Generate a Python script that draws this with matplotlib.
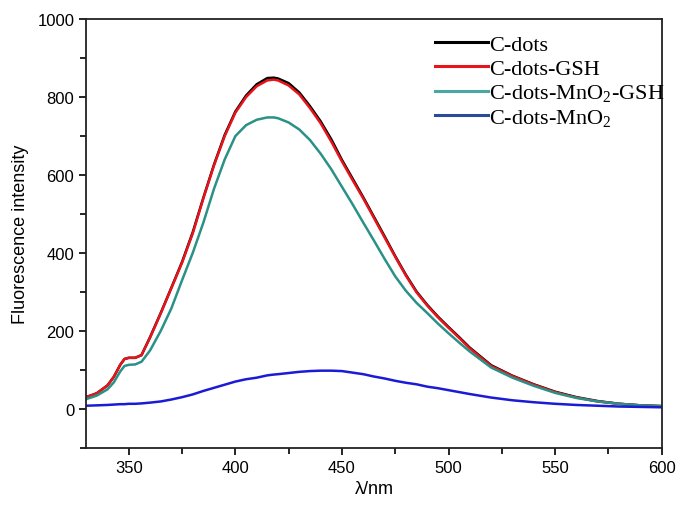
import numpy as np
import matplotlib.pyplot as plt
from matplotlib.ticker import MultipleLocator

plt.rcParams['mathtext.default'] = 'regular'

# wavelengths (nm) shared by all spectra
wl = [330, 335, 340, 343, 346, 348, 350, 353, 356, 360, 365, 370, 375, 380,
      385, 390, 395, 400, 405, 410, 415, 418, 420, 425, 430, 435, 440, 445,
      450, 455, 460, 465, 470, 475, 480, 485, 490, 495, 500, 505, 510, 520,
      530, 540, 550, 560, 570, 580, 590, 600]

cdots = [30, 40, 60, 82, 113, 128, 131, 131, 138, 184, 246, 311, 377, 453,
         542, 627, 703, 763, 804, 833, 849, 850, 848, 836, 812, 777, 738, 692,
         639, 591, 543, 493, 443, 392, 344, 301, 267, 237, 210, 184, 157, 112,
         85, 63, 44, 30, 20, 13, 9, 7]

cdots_gsh = [30, 40, 60, 82, 113, 128, 131, 131, 138, 183, 245, 310, 375, 450,
             540, 625, 700, 760, 800, 828, 843, 845, 843, 830, 807, 772, 733, 686,
             635, 587, 540, 490, 440, 390, 342, 299, 265, 235, 208, 182, 155, 110,
             84, 62, 43, 29, 19, 13, 9, 7]

cdots_mno2_gsh = [25, 34, 50, 68, 96, 110, 113, 114, 121, 150, 200, 258, 330, 400,
                  478, 565, 640, 700, 728, 742, 748, 748, 746, 735, 717, 690, 655, 615,
                  570, 525, 478, 432, 385, 340, 303, 272, 246, 219, 194, 170, 147, 106,
                  80, 59, 41, 28, 19, 13, 9, 7]

cdots_mno2 = [8, 9, 10, 11, 12, 12, 13, 13, 14, 16, 19, 24, 30, 37,
              46, 54, 62, 70, 76, 80, 86, 88, 89, 92, 95, 97, 98, 98,
              97, 93, 89, 83, 78, 72, 67, 63, 57, 53, 48, 43, 38, 29,
              22, 17, 13, 10, 8, 6, 5, 4]

fig = plt.figure(figsize=(6.78, 5.06), dpi=100)
ax = fig.add_axes([0.127, 0.113, 0.849, 0.847])

lw = 1.8
ax.plot(wl, cdots, color='black', lw=lw, label='C-dots')
ax.plot(wl, cdots_gsh, color='#e8141b', lw=lw, label='C-dots-GSH')
ax.plot(wl, cdots_mno2_gsh, color='#2a9187', lw=lw, label='C-dots-MnO$_2$-GSH')
ax.plot(wl, cdots_mno2, color='#1b1bd6', lw=lw, label='C-dots-MnO$_2$')

ax.set_xlim(330, 600)
ax.set_ylim(-100, 1000)
ax.xaxis.set_major_locator(MultipleLocator(50))
ax.xaxis.set_minor_locator(MultipleLocator(25))
ax.yaxis.set_major_locator(MultipleLocator(200))
ax.yaxis.set_minor_locator(MultipleLocator(100))
ax.tick_params(which='both', direction='out', width=1.2, labelsize=12,
               top=False, right=False)
ax.tick_params(which='major', length=5)
ax.tick_params(which='minor', length=4)
for lab in ax.get_xticklabels() + ax.get_yticklabels():
    lab.set_family('Liberation Sans')
for sp in ax.spines.values():
    sp.set_linewidth(1.3)
    sp.set_color('#222222')

ax.set_xlabel('λ/nm', fontsize=13, family='Liberation Sans', labelpad=4)
ax.set_ylabel('Fluorescence intensity', fontsize=13, family='Liberation Sans', labelpad=6)

leg = ax.legend(loc='upper left', bbox_to_anchor=(0.59, 0.985), frameon=False,
                prop={'family': 'Liberation Serif', 'size': 16},
                handlelength=2.4, handletextpad=0.05, labelspacing=0.15,
                borderaxespad=0)
leg_colors = ['black', '#e8141b', '#4aa8a4', '#2a4a9a']
for line, c in zip(leg.get_lines(), leg_colors):
    line.set_linewidth(2.2)
    line.set_color(c)

fig.savefig('out.png', dpi=100)
